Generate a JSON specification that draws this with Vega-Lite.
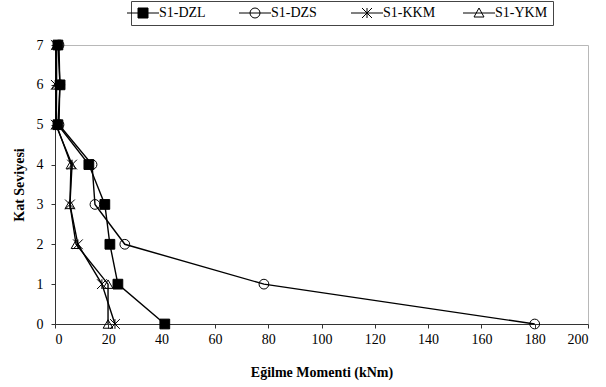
{
  "$schema": "https://vega.github.io/schema/vega-lite/v6.json",
  "width": 533,
  "height": 279,
  "autosize": {"type": "none"},
  "padding": {"left": 55, "top": 45, "right": 18, "bottom": 63},
  "background": "white",
  "config": {
    "font": "Liberation Serif",
    "view": {"stroke": "#b8b8b8", "strokeWidth": 1},
    "axis": {
      "labelFont": "Liberation Serif",
      "labelFontSize": 14,
      "labelColor": "black",
      "titleFont": "Liberation Serif",
      "titleFontSize": 14,
      "titleFontWeight": "bold",
      "titleColor": "black",
      "domainColor": "#333333",
      "tickColor": "#333333",
      "tickSize": 4,
      "grid": false
    },
    "legend": {
      "orient": "none",
      "legendX": 76,
      "legendY": -44,
      "direction": "horizontal",
      "strokeColor": "#444444",
      "padding": 5,
      "labelFont": "Liberation Serif",
      "labelFontSize": 14,
      "labelColor": "black",
      "labelOffset": 9,
      "columnPadding": 25,
      "gridAlign": "all",
      "symbolStrokeWidth": 1
    }
  },
  "data": {
    "values": [
      {"series": "S1-DZL", "kat": 0, "moment": 41.2},
      {"series": "S1-DZL", "kat": 1, "moment": 23.6},
      {"series": "S1-DZL", "kat": 2, "moment": 20.6},
      {"series": "S1-DZL", "kat": 3, "moment": 18.7},
      {"series": "S1-DZL", "kat": 4, "moment": 12.7},
      {"series": "S1-DZL", "kat": 5, "moment": 1.1},
      {"series": "S1-DZL", "kat": 6, "moment": 1.9},
      {"series": "S1-DZL", "kat": 7, "moment": 1.1},
      {"series": "S1-DZS", "kat": 0, "moment": 180},
      {"series": "S1-DZS", "kat": 1, "moment": 78.4},
      {"series": "S1-DZS", "kat": 2, "moment": 26.2},
      {"series": "S1-DZS", "kat": 3, "moment": 15},
      {"series": "S1-DZS", "kat": 4, "moment": 13.9},
      {"series": "S1-DZS", "kat": 5, "moment": 1.5},
      {"series": "S1-DZS", "kat": 6, "moment": 1.8},
      {"series": "S1-DZS", "kat": 7, "moment": 1.5},
      {"series": "S1-KKM", "kat": 0, "moment": 22.5},
      {"series": "S1-KKM", "kat": 1, "moment": 17.6},
      {"series": "S1-KKM", "kat": 2, "moment": 8.6},
      {"series": "S1-KKM", "kat": 3, "moment": 5.6},
      {"series": "S1-KKM", "kat": 4, "moment": 6.4},
      {"series": "S1-KKM", "kat": 5, "moment": 0.3},
      {"series": "S1-KKM", "kat": 6, "moment": 0.3},
      {"series": "S1-KKM", "kat": 7, "moment": 0.3},
      {"series": "S1-YKM", "kat": 0, "moment": 19.9},
      {"series": "S1-YKM", "kat": 1, "moment": 19.9},
      {"series": "S1-YKM", "kat": 2, "moment": 7.9},
      {"series": "S1-YKM", "kat": 3, "moment": 5.6},
      {"series": "S1-YKM", "kat": 4, "moment": 6.0},
      {"series": "S1-YKM", "kat": 5, "moment": 0.5},
      {"series": "S1-YKM", "kat": 6, "moment": 0.6},
      {"series": "S1-YKM", "kat": 7, "moment": 0.6}
    ]
  },
  "encoding": {
    "x": {
      "field": "moment",
      "type": "quantitative",
      "scale": {"domain": [0, 200], "nice": false},
      "axis": {"values": [0, 20, 40, 60, 80, 100, 120, 140, 160, 180, 200], "title": "Eğilme Momenti (kNm)", "labelPadding": 4, "titlePadding": 19}
    },
    "y": {
      "field": "kat",
      "type": "quantitative",
      "scale": {"domain": [0, 7], "nice": false},
      "axis": {"values": [0, 1, 2, 3, 4, 5, 6, 7], "title": "Kat Seviyesi", "labelPadding": 8, "titlePadding": 10}
    }
  },
  "layer": [
    {
      "mark": {"type": "line", "color": "black", "strokeWidth": 1.4},
      "encoding": {
        "detail": {"field": "series", "type": "nominal"},
        "order": {"field": "kat", "type": "quantitative"}
      }
    },
    {
      "mark": {"type": "point", "strokeWidth": 1, "size": 95, "opacity": 1},
      "encoding": {
        "shape": {
          "field": "series",
          "type": "nominal",
          "scale": {
            "domain": ["S1-DZL", "S1-DZS", "S1-KKM", "S1-YKM"],
            "range": ["square", "circle", "M-1,-1L1,1M-1,1L1,-1M0,-1V1", "triangle-up"]
          },
          "legend": null
        },
        "fill": {
          "field": "series",
          "type": "nominal",
          "scale": {
            "domain": ["S1-DZL", "S1-DZS", "S1-KKM", "S1-YKM"],
            "range": ["black", "transparent", "transparent", "transparent"]
          },
          "legend": null
        },
        "stroke": {
          "field": "series",
          "type": "nominal",
          "scale": {
            "domain": ["S1-DZL", "S1-DZS", "S1-KKM", "S1-YKM"],
            "range": ["black", "black", "black", "black"]
          },
          "legend": null
        }
      }
    },
    {
      "transform": [{"filter": "datum.kat < 0"}],
      "mark": {"type": "point", "strokeWidth": 1, "size": 49, "opacity": 1},
      "encoding": {
        "shape": {
          "field": "series",
          "type": "nominal",
          "scale": {
            "domain": ["S1-DZL", "S1-DZS", "S1-KKM", "S1-YKM"],
            "range": ["M-3.2,0H3.2M-1,-1H1V1H-1Z", "M-3.2,0H3.2M1,0A1,1 0 1,1 -1,0A1,1 0 1,1 1,0", "M-3.2,0H3.2M-1,-1L1,1M-1,1L1,-1M0,-1V1", "M-3.2,0H3.2M0,-1L1,0.8H-1Z"]
          },
          "legend": {"title": null, "labelFont": "Liberation Serif"}
        },
        "fill": {
          "field": "series",
          "type": "nominal",
          "scale": {
            "domain": ["S1-DZL", "S1-DZS", "S1-KKM", "S1-YKM"],
            "range": ["black", "transparent", "transparent", "transparent"]
          },
          "legend": {"title": null, "labelFont": "Liberation Serif"}
        },
        "stroke": {
          "field": "series",
          "type": "nominal",
          "scale": {
            "domain": ["S1-DZL", "S1-DZS", "S1-KKM", "S1-YKM"],
            "range": ["black", "black", "black", "black"]
          },
          "legend": {"title": null, "labelFont": "Liberation Serif"}
        }
      }
    }
  ],
  "resolve": {"scale": {"shape": "independent", "fill": "independent", "stroke": "independent"}}
}
